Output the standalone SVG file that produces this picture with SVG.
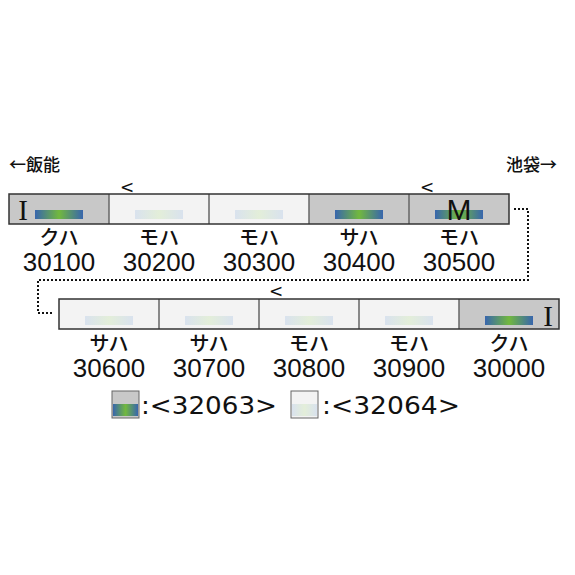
<svg xmlns="http://www.w3.org/2000/svg" width="575" height="575" viewBox="0 0 575 575">
<defs>
<linearGradient id="gD" x1="0" x2="1" y1="0" y2="0">
<stop offset="0" stop-color="#3866ad"/><stop offset="0.5" stop-color="#72b83e"/><stop offset="1" stop-color="#3866ad"/>
</linearGradient>
<linearGradient id="gL" x1="0" x2="1" y1="0" y2="0">
<stop offset="0" stop-color="#d9e2ee"/><stop offset="0.5" stop-color="#e3eed9"/><stop offset="1" stop-color="#d9e2ee"/>
</linearGradient>
<style>
.dk{fill:#c8c8c8}
.lt{fill:#f3f3f3}
.div{stroke:#666;stroke-width:1.5}
.out{fill:none;stroke:#333;stroke-width:1.5}
.bd{fill:url(#gD)}
.bl{fill:url(#gL)}
.kt{font-family:"Noto Sans CJK JP",sans-serif;font-size:20px;font-weight:500;text-anchor:middle;fill:#111}
.nm{font-family:"Liberation Sans",Arial,sans-serif;font-size:26px;text-anchor:middle;fill:#111}
.ar{font-family:"DejaVu Sans",sans-serif;font-size:17px;text-anchor:middle;fill:#111}
.dir{font-family:"Noto Sans CJK JP",sans-serif;font-size:17px;font-weight:500;fill:#111}
.lg{font-family:"DejaVu Sans",sans-serif;font-size:25px;fill:#111}
.ii{font-family:"Liberation Serif","Times New Roman",serif;font-size:29px;fill:#111;text-anchor:middle}
</style>
</defs>
<rect width="575" height="575" fill="#fff"/>

<text class="dir" x="9" y="171">←飯能</text>
<text class="dir" x="557" y="171" text-anchor="end">池袋→</text>

<g id="connectors">
<path d="M514,209 H528 V280 H38 V313 H54" fill="none" stroke="#111" stroke-width="2" stroke-dasharray="2 2"/>
<text class="ar" x="127" y="193">&lt;</text>
<text class="ar" x="427" y="193">&lt;</text>
<text class="ar" x="276" y="297">&lt;</text>
</g>

<g id="car-30100">
<rect class="dk" x="9" y="194" width="100" height="30"/>
<rect class="bd" x="35" y="210" width="48" height="9"/>
<text class="ii" x="23" y="220">I</text>
<text class="kt" x="59" y="245">クハ</text>
<text class="nm" x="59" y="271">30100</text>
</g>
<g id="car-30200">
<rect class="lt" x="109" y="194" width="100" height="30"/>
<rect class="bl" x="135" y="210" width="48" height="9"/>
<text class="kt" x="159" y="245">モハ</text>
<text class="nm" x="159" y="271">30200</text>
</g>
<g id="car-30300">
<rect class="lt" x="209" y="194" width="100" height="30"/>
<rect class="bl" x="235" y="210" width="48" height="9"/>
<text class="kt" x="259" y="245">モハ</text>
<text class="nm" x="259" y="271">30300</text>
</g>
<g id="car-30400">
<rect class="dk" x="309" y="194" width="100" height="30"/>
<rect class="bd" x="335" y="210" width="48" height="9"/>
<text class="kt" x="359" y="245">サハ</text>
<text class="nm" x="359" y="271">30400</text>
</g>
<g id="car-30500">
<rect class="dk" x="409" y="194" width="100" height="30"/>
<rect class="bd" x="435" y="210" width="48" height="9"/>
<text x="459" y="220" font-family="Liberation Sans,Arial,sans-serif" font-size="30" text-anchor="middle" fill="#111">M</text>
<text class="kt" x="459" y="245">モハ</text>
<text class="nm" x="459" y="271">30500</text>
</g>
<g id="row1-frame">
<line class="div" x1="109" y1="194" x2="109" y2="224"/>
<line class="div" x1="209" y1="194" x2="209" y2="224"/>
<line class="div" x1="309" y1="194" x2="309" y2="224"/>
<line class="div" x1="409" y1="194" x2="409" y2="224"/>
<rect class="out" x="9" y="194" width="500" height="30"/>
</g>

<g id="car-30600">
<rect class="lt" x="59" y="299" width="100" height="30"/>
<rect class="bl" x="85" y="316" width="48" height="9"/>
<text class="kt" x="109" y="351">サハ</text>
<text class="nm" x="109" y="377">30600</text>
</g>
<g id="car-30700">
<rect class="lt" x="159" y="299" width="100" height="30"/>
<rect class="bl" x="185" y="316" width="48" height="9"/>
<text class="kt" x="209" y="351">サハ</text>
<text class="nm" x="209" y="377">30700</text>
</g>
<g id="car-30800">
<rect class="lt" x="259" y="299" width="100" height="30"/>
<rect class="bl" x="285" y="316" width="48" height="9"/>
<text class="kt" x="309" y="351">モハ</text>
<text class="nm" x="309" y="377">30800</text>
</g>
<g id="car-30900">
<rect class="lt" x="359" y="299" width="100" height="30"/>
<rect class="bl" x="385" y="316" width="48" height="9"/>
<text class="kt" x="409" y="351">モハ</text>
<text class="nm" x="409" y="377">30900</text>
</g>
<g id="car-30000">
<rect class="dk" x="459" y="299" width="100" height="30"/>
<rect class="bd" x="485" y="316" width="48" height="9"/>
<text class="ii" x="548" y="326">I</text>
<text class="kt" x="509" y="351">クハ</text>
<text class="nm" x="509" y="377">30000</text>
</g>
<g id="row2-frame">
<line class="div" x1="159" y1="299" x2="159" y2="329"/>
<line class="div" x1="259" y1="299" x2="259" y2="329"/>
<line class="div" x1="359" y1="299" x2="359" y2="329"/>
<line class="div" x1="459" y1="299" x2="459" y2="329"/>
<rect class="out" x="59" y="299" width="500" height="30"/>
</g>

<g id="legend-32063">
<rect class="dk" x="112" y="391" width="27" height="27"/>
<rect class="bd" x="113" y="404" width="25" height="12"/>
<rect x="112" y="391" width="27" height="27" fill="none" stroke="#666" stroke-width="1"/>
<text class="lg" x="141" y="414" textLength="136" lengthAdjust="spacingAndGlyphs">:&lt;32063&gt;</text>
</g>
<g id="legend-32064">
<rect class="lt" x="291" y="391" width="27" height="27"/>
<rect class="bl" x="292" y="404" width="25" height="12"/>
<rect x="291" y="391" width="27" height="27" fill="none" stroke="#666" stroke-width="1"/>
<text class="lg" x="322" y="414" textLength="138" lengthAdjust="spacingAndGlyphs">:&lt;32064&gt;</text>
</g>
</svg>
